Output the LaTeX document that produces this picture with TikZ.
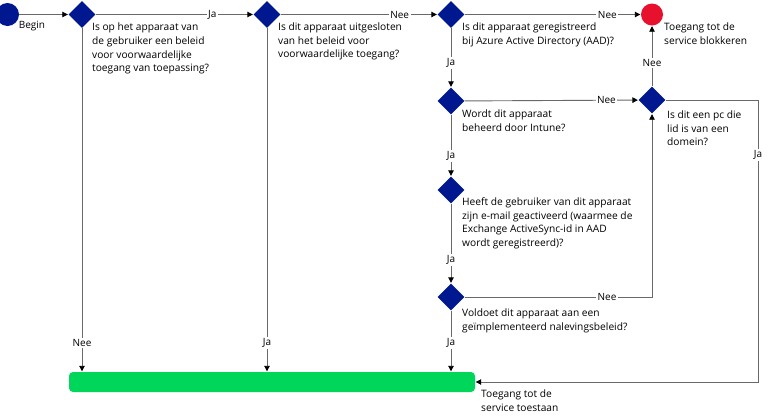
\documentclass[tikz,border=0pt]{standalone}
\usepackage{fontspec}
\setmainfont{Open Sans}
\usetikzlibrary{shapes.geometric,arrows.meta,positioning}
\definecolor{navy}{RGB}{0,24,143}
\definecolor{stopred}{RGB}{232,17,45}
\definecolor{okgreen}{RGB}{0,214,90}
\definecolor{linegray}{RGB}{105,105,105}
\tikzset{
  dia/.style={diamond,fill=navy,minimum width=27pt,minimum height=27pt,inner sep=0pt},
  conn/.style={draw=linegray,line width=0.9pt,-{Triangle[length=5.5pt,width=5.5pt,color=black]},shorten >=0.5pt},
  lbl/.style={fill=white,inner sep=1.5pt,font=\fontsize{10}{12}\selectfont},
  qtext/.style={anchor=north west,inner sep=0pt,align=left,font=\fontsize{10.2}{13.6}\selectfont},
}
\begin{document}
\begin{tikzpicture}[x=1pt,y=-1pt]
\useasboundingbox (0,0) rectangle (771,416);
% nodes
\node[circle,fill=navy,minimum size=23pt,inner sep=0pt] (begin) at (7.5,14.5) {};
\node[lbl,fill=none] (beginlbl) at (32,26) {Begin};
\node[dia] (d1) at (82,14.5) {};
\node[dia] (d2) at (267,14.5) {};
\node[dia] (d3) at (451,14.5) {};
\node[dia] (d4) at (451,101) {};
\node[dia] (d6) at (451,190) {};
\node[dia] (d7) at (451,297) {};
\node[dia] (d5) at (652,100) {};
\node[circle,fill=stopred,minimum size=22pt,inner sep=0pt] (block) at (652,14.5) {};
\node[rectangle,rounded corners=4pt,fill=okgreen,minimum width=406pt,minimum height=20pt,inner sep=0pt] (allow) at (272,382) {};
% texts
\node[qtext] (t1) at (92,23) {Is op het apparaat van\\de gebruiker een beleid\\voor voorwaardelijke\\toegang van toepassing?};
\node[qtext] (t2) at (278,22.5) {Is dit apparaat uitgesloten\\van het beleid voor\\voorwaardelijke toegang?};
\node[qtext] (t3) at (462,22.5) {Is dit apparaat geregistreerd\\bij Azure Active Directory (AAD)?};
\node[qtext] (tblock) at (664,22.5) {Toegang tot de\\service blokkeren};
\node[qtext] (t4) at (462,109.5) {Wordt dit apparaat\\beheerd door Intune?};
\node[qtext] (t5) at (667,110.5) {Is dit een pc die\\lid is van een\\domein?};
\node[qtext] (t6) at (462,197.5) {Heeft de gebruiker van dit apparaat\\zijn e-mail geactiveerd (waarmee de\\Exchange ActiveSync-id in AAD\\wordt geregistreerd)?};
\node[qtext] (t7) at (462,308.5) {Voldoet dit apparaat aan een\\geïmplementeerd nalevingsbeleid?};
\node[qtext] (tallow) at (481,389.5) {Toegang tot de\\service toestaan};
% connectors
\draw[conn] (begin) -- (d1);
\draw[conn] (d1) -- node[lbl,pos=0.74] (l1) {Ja} (d2);
\draw[conn] (d2) -- node[lbl,pos=0.76] (l2) {Nee} (d3);
\draw[conn] (d3) -- node[lbl,pos=0.81] (l3) {Nee} (block);
\draw[conn] (d3) -- node[lbl,pos=0.59] (l4) {Ja} (d4);
\draw[conn] (d4) -- node[lbl,pos=0.816] (l5) {Nee} (d5);
\draw[conn] (d5) -- node[lbl,pos=0.38] (l6) {Nee} (block);
\draw[conn] (d4) -- node[lbl,pos=0.67] (l7) {Ja} (d6);
\draw[conn] (d6) -- node[lbl,pos=0.71] (l8) {Ja} (d7);
\draw[conn] (d7.east) -| node[lbl,pos=0.38] (l9) {Nee} (d5.south);
\coordinate (c1) at (758,100);
\draw[conn] (d5.east) -- (c1) |- node[lbl,pos=0.0975] (l10) {Ja} (allow.east);
\draw[conn] (d1.south) -- node[lbl,pos=0.916] (l11) {Nee} (d1.south |- allow.north);
\draw[conn] (d2.south) -- node[lbl,pos=0.916] (l12) {Ja} (d2.south |- allow.north);
\draw[conn] (d7.south) -- node[lbl,pos=0.53] (l13) {Ja} (d7.south |- allow.north);
\end{tikzpicture}
\end{document}
